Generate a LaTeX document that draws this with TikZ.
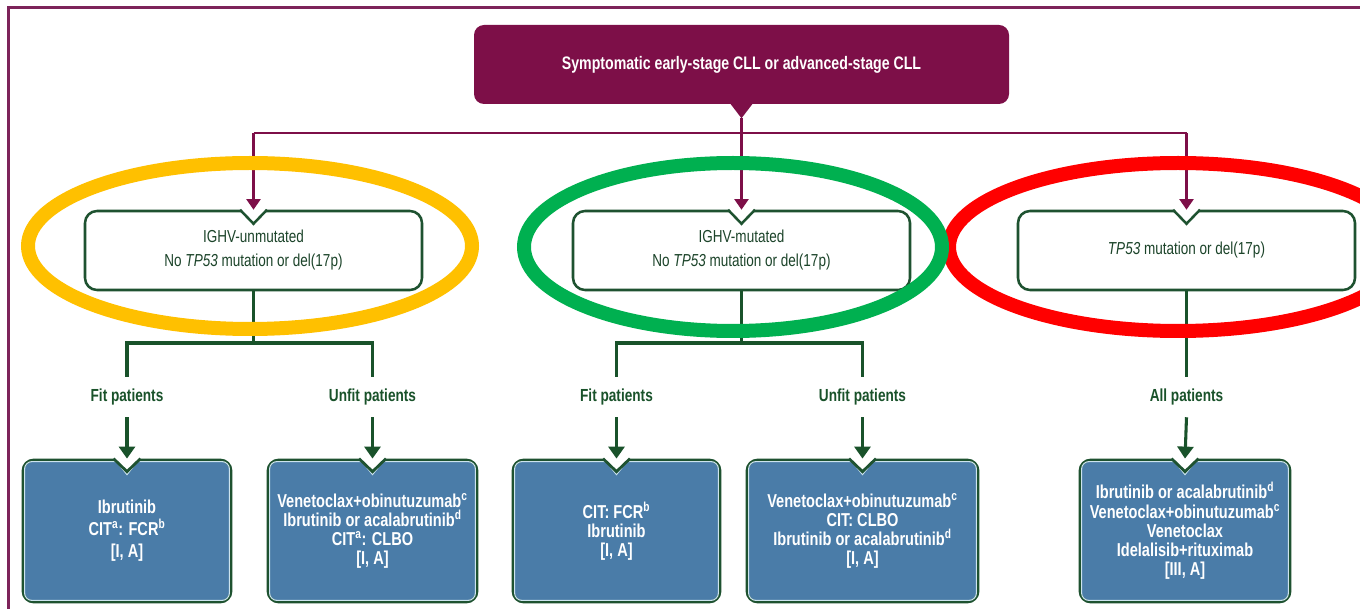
\documentclass[tikz,border=0pt]{standalone}
\usepackage{fontspec}
\setmainfont{Liberation Sans}[FakeStretch=0.78]
\usetikzlibrary{arrows.meta,calc}
\definecolor{purp}{RGB}{125,15,72}
\definecolor{framec}{RGB}{125,35,90}
\definecolor{gline}{RGB}{25,82,42}
\definecolor{boxgreen}{RGB}{30,82,48}
\definecolor{midtext}{RGB}{28,68,42}
\definecolor{boxblue}{RGB}{74,124,168}
\definecolor{lightl}{RGB}{205,228,238}
\definecolor{ovyel}{RGB}{255,192,0}
\definecolor{ovgreen}{RGB}{0,176,80}
\definecolor{ovred}{RGB}{255,0,0}
\newcommand{\midnotch}[1]{%
  \fill[white] ($(#1.north)+(-15,-3)$) -- ($(#1.north)+(15,-3)$) -- ($(#1.north)+(13,0)$) -- ($(#1.north)+(0,14)$) -- ($(#1.north)+(-13,0)$) -- cycle;
  \draw[boxgreen, line width=1.9pt] ($(#1.north)+(-13.5,0)$) -- ($(#1.north)+(0,14)$) -- ($(#1.north)+(13.5,0)$);}
\newcommand{\bluenotch}[1]{%
  \fill[white] ($(#1.north)+(-15,-3)$) -- ($(#1.north)+(15,-3)$) -- ($(#1.north)+(13,0)$) -- ($(#1.north)+(0,13)$) -- ($(#1.north)+(-13,0)$) -- cycle;
  \draw[lightl, line width=0.8pt] ($(#1.north)+(-10.5,3)$) -- ($(#1.north)+(0,16)$) -- ($(#1.north)+(10.5,3)$);
  \draw[boxgreen, line width=2.1pt] ($(#1.north)+(-13.5,0)$) -- ($(#1.north)+(0,13)$) -- ($(#1.north)+(13.5,0)$);}
\newcommand{\innerline}[1]{%
  \draw[lightl, line width=0.8pt, rounded corners=5.5pt] ($(#1.north west)+(3,3)$) rectangle ($(#1.south east)+(-3,-3)$);}
\begin{document}
\begin{tikzpicture}[x=0.75pt,y=-0.75pt,
  titlebox/.style={fill=purp, rounded corners=7.5pt, text=white, font=\fontsize{13.6}{16}\selectfont\bfseries, minimum width=401.25pt, minimum height=59.25pt, inner sep=0pt},
  midbox/.style={fill=white, draw=boxgreen, line width=1.9pt, rounded corners=9pt, text=midtext, font=\fontsize{13}{18}\selectfont, align=center, minimum width=252.75pt, minimum height=59.25pt, inner sep=0pt},
  bluebox/.style={fill=boxblue, draw=boxgreen, line width=2.1pt, rounded corners=8pt, text=white, font=\fontsize{14}{14.4}\selectfont\bfseries, align=center, minimum height=106.5pt, inner sep=0pt},
  lab/.style={text=gline, font=\fontsize{13.1}{15}\selectfont\bfseries, minimum height=30pt, inner sep=0pt},
  pline/.style={draw=purp, line width=1.9pt},
  parrow/.style={pline, -{Triangle[width=10.5pt,length=8pt]}},
  glin/.style={draw=gline, line width=2.3pt},
  garrow/.style={glin, -{Triangle[width=12pt,length=9pt]}},
  oval/.style={line width=10.5pt}]
\useasboundingbox (0,0) rectangle (1360,609);
\fill[white] (0,0) rectangle (1360,609);
\draw[framec, line width=2.25pt] (8,640) -- (8,8) -- (1400,8);

% title
\node[titlebox] (t) at (741.5,64.5) {Symptomatic early-stage CLL or advanced-stage CLL};
\fill[purp] ($(t.south)+(-13,-3)$) -- ($(t.south)+(13,-3)$) -- ($(t.south)+(0,14)$) -- cycle;
\coordinate (tn) at ($(t.south)+(0,14)$);

% middle boxes
\node[midbox] (m1) at (253.5,250.5) {IGHV-unmutated\\No \textit{TP53} mutation or del(17p)};
\node[midbox] (m2) at (741.5,250.5) {IGHV-mutated\\No \textit{TP53} mutation or del(17p)};
\node[midbox] (m3) at (1186.5,250.5) {\textit{TP53} mutation or del(17p)};
\midnotch{m1}\midnotch{m2}\midnotch{m3}

% purple connectors
\coordinate (j1) at (253.5,133);
\coordinate (j2) at (741.5,133);
\coordinate (j3) at (1186.5,133);
\draw[pline] (tn) -- (j2);
\draw[pline] (j1) -- (j3);
\draw[parrow] (j1) -- (m1.north);
\draw[parrow] (j2) -- (m2.north);
\draw[parrow] (j3) -- (m3.north);

% labels
\node[lab] (l1) at (127,397) {Fit patients};
\node[lab] (l2) at (372.5,397) {Unfit patients};
\node[lab] (l3) at (616.5,397) {Fit patients};
\node[lab] (l4) at (862.5,397) {Unfit patients};
\node[lab] (l5) at (1186.5,397) {All patients};

% bottom boxes
\node[bluebox, minimum width=156pt] (n1) at (127,531) {Ibrutinib\\[2pt]CIT\textsuperscript{a}: FCR\textsuperscript{b}\\[2pt]{[I, A]}};
\node[bluebox, minimum width=156.75pt] (n2) at (372.5,531) {Venetoclax+obinutuzumab\textsuperscript{c}\\Ibrutinib or acalabrutinib\textsuperscript{d}\\CIT\textsuperscript{a}: CLBO\\{[I, A]}};
\node[bluebox, minimum width=155.25pt] (n3) at (616.5,531) {CIT: FCR\textsuperscript{b}\\Ibrutinib\\{[I, A]}};
\node[bluebox, minimum width=173.25pt] (n4) at (862.5,531) {Venetoclax+obinutuzumab\textsuperscript{c}\\CIT: CLBO\\Ibrutinib or acalabrutinib\textsuperscript{d}\\{[I, A]}};
\node[bluebox, minimum width=157.5pt] (n5) at (1185,531) {Ibrutinib or acalabrutinib\textsuperscript{d}\\Venetoclax+obinutuzumab\textsuperscript{c}\\Venetoclax\\Idelalisib+rituximab\\{[III, A]}};
\innerline{n1}\innerline{n2}\innerline{n3}\innerline{n4}\innerline{n5}
\bluenotch{n1}\bluenotch{n2}\bluenotch{n3}\bluenotch{n4}\bluenotch{n5}

% green connectors
\coordinate (b1) at (253.5,343);
\coordinate (b2) at (741.5,343);
\draw[glin] (m1.south) -- (b1);
\draw[glin] (l1.north) |- (b1) -| (l2.north);
\draw[glin] (m2.south) -- (b2);
\draw[glin] (l3.north) |- (b2) -| (l4.north);
\draw[glin] (m3.south) -- (l5.north);
\draw[garrow] (l1.south) -- (n1.north);
\draw[garrow] (l2.south) -- (n2.north);
\draw[garrow] (l3.south) -- (n3.north);
\draw[garrow] (l4.south) -- (n4.north);
\draw[garrow] (l5.south) -- (n5.north);

% highlight ovals
\draw[ovyel, oval] (250,246) ellipse [x radius=222, y radius=83];
\draw[ovred, oval] (1178,247) ellipse [x radius=229, y radius=84];
\draw[ovgreen, oval] (733,247) ellipse [x radius=209, y radius=84];
\end{tikzpicture}
\end{document}
